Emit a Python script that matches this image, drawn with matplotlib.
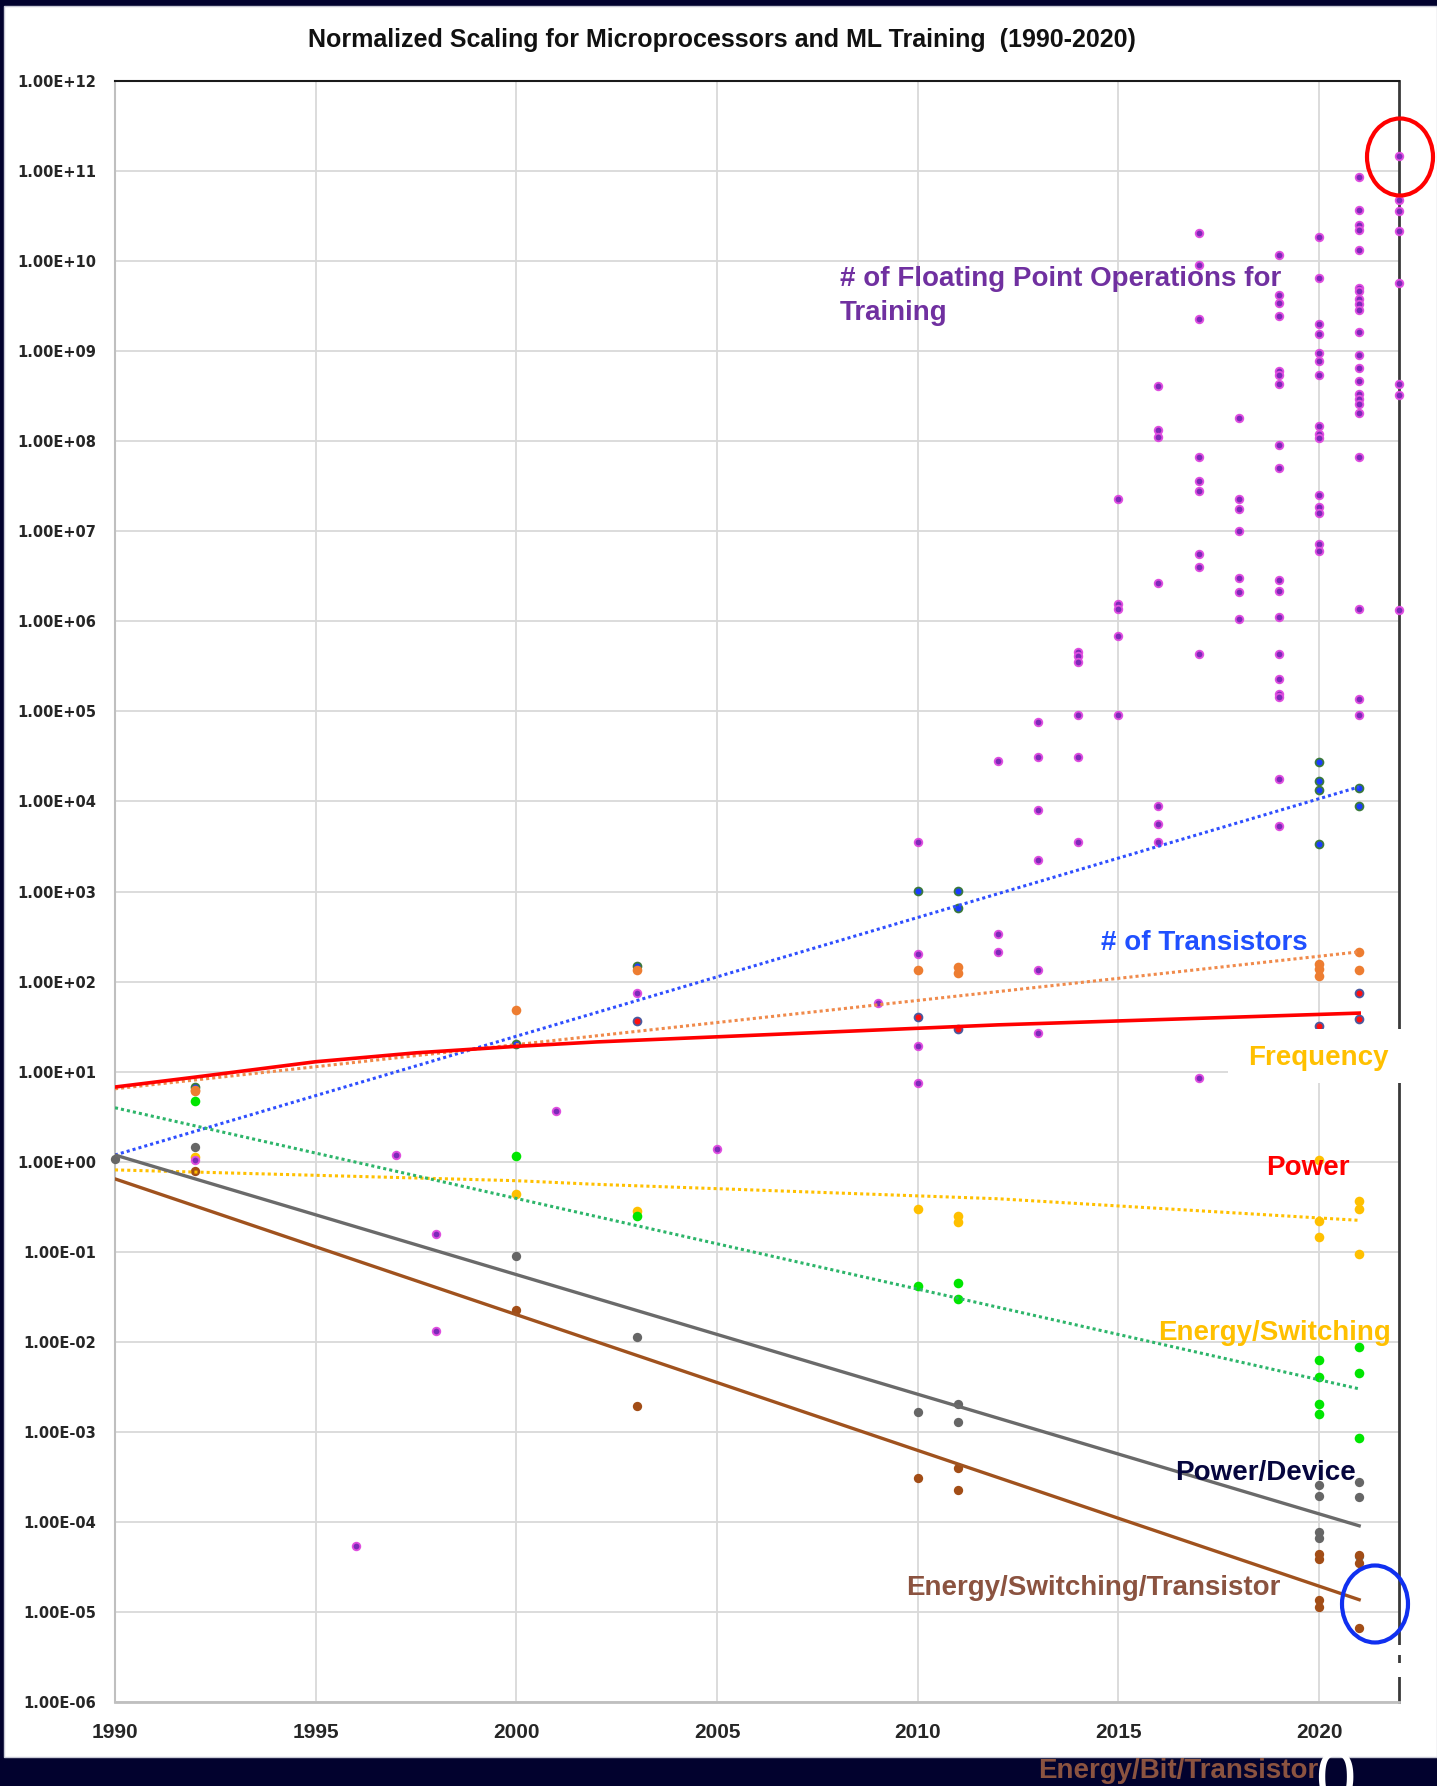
import matplotlib
matplotlib.use("Agg")
import matplotlib.pyplot as plt
from matplotlib.patches import Rectangle, Ellipse
from matplotlib.ticker import NullLocator

W, H = 1437, 1786
NAVY = "#02022e"

# ---------------- data (normalized, 1990 = 1) ----------------
# training compute, FLOPs per model, grouped by year
flops = {
    1992: [1.05],
    1996: [5.4e-5],
    1997: [1.2],
    1998: [0.158, 0.0132],
    2001: [3.63],
    2003: [74],
    2005: [1.38],
    2009: [57.5],
    2010: [3550, 200, 19.5, 7.41],
    2012: [2.82e4, 339, 214],
    2013: [7.59e4, 3.09e4, 7940, 2240, 135, 26.9],
    2014: [4.57e5, 4.07e5, 3.55e5, 9.12e4, 3.09e4, 3550],
    2015: [2.29e7, 1.55e6, 1.38e6, 6.92e5, 9.12e4],
    2016: [4.07e8, 1.32e8, 1.12e8, 2.63e6, 8910, 5620, 3550],
    2017: [2.04e10, 8.91e9, 2.24e9, 6.61e7, 3.63e7, 2.82e7, 5.5e6, 3.98e6, 4.37e5, 8.51],
    2018: [1.82e8, 2.29e7, 1.74e7, 1.0e7, 3.02e6, 2.09e6, 1.05e6],
    2019: [1.17e10, 4.17e9, 3.39e9, 2.45e9, 6.03e8, 5.37e8, 4.27e8, 9.12e7, 5.01e7,
           2.88e6, 2.19e6, 1.10e6, 4.37e5, 2.29e5, 1.55e5, 1.45e5, 1.78e4, 5370],
    2020: [1.86e10, 6.46e9, 2.0e9, 1.55e9, 9.55e8, 7.76e8, 5.37e8, 1.48e8, 1.2e8,
           1.07e8, 2.51e7, 1.86e7, 1.58e7, 7.24e6, 6.03e6],
    2021: [8.51e10, 3.63e10, 2.51e10, 2.19e10, 1.32e10, 5.01e9, 4.57e9, 3.72e9, 3.31e9,
           2.82e9, 1.62e9, 8.91e8, 6.46e8, 4.68e8, 3.31e8, 2.95e8, 2.57e8, 2.04e8,
           6.61e7, 1.38e6, 1.38e5, 9.12e4],
    2022: [1.45e11, 4.68e10, 3.55e10, 2.14e10, 5.62e9, 4.27e8, 3.24e8, 1.32e6],
}

trans_years = [1992, 2000, 2003, 2010, 2011, 2011, 2020, 2020, 2020, 2020, 2021, 2021]
trans_vals = [6.76, 20.4, 148, 1020, 1020, 661, 2.75e4, 1.70e4, 1.35e4, 3390, 1.41e4, 8910]

freq_years = [1992, 1992, 2000, 2003, 2010, 2011, 2011, 2020, 2020, 2020, 2021, 2021]
freq_vals = [6.31, 6.03, 49, 135, 135, 145, 123, 158, 138, 115, 214, 135]

power_years = [2003, 2010, 2011, 2020, 2021, 2021]
power_vals = [36.3, 40.7, 29.5, 32.4, 74.1, 38.9]

esw_years = [1992, 2000, 2003, 2010, 2011, 2011, 2020, 2020, 2020, 2021, 2021, 2021]
esw_vals = [1.12, 0.437, 0.282, 0.302, 0.251, 0.214, 1.05, 0.219, 0.145, 0.363, 0.302, 0.0955]

green_years = [1992, 2000, 2003, 2010, 2011, 2011, 2020, 2020, 2020, 2020, 2021, 2021, 2021]
green_vals = [4.68, 1.15, 0.251, 0.0417, 0.0457, 0.0302,
              6.31e-3, 4.07e-3, 2.04e-3, 1.58e-3, 8.71e-3, 4.57e-3, 8.71e-4]

pdev_years = [1990, 1992, 2000, 2003, 2010, 2011, 2011, 2020, 2020, 2020, 2020, 2021, 2021, 2021]
pdev_vals = [1.07, 1.45, 0.0912, 0.0115, 1.66e-3, 2.04e-3, 1.29e-3,
             2.57e-4, 1.95e-4, 7.76e-5, 6.61e-5, 2.82e-4, 1.91e-4, 4.17e-5]

est_years = [1992, 2000, 2003, 2010, 2011, 2011, 2020, 2020, 2020, 2020, 2021, 2021, 2021]
est_vals = [0.794, 0.0229, 1.95e-3, 3.09e-4, 3.98e-4, 2.29e-4,
            4.47e-5, 3.89e-5, 1.38e-5, 1.15e-5, 4.37e-5, 3.55e-5, 6.76e-6]

# exponential trend lines, value at first / last year
trend_years = [1990, 2021]
trend_trans = [1.19, 1.45e4]
trend_freq = [6.46, 214]
trend_green = [3.98, 3.02e-3]
trend_pdev = [1.19, 9.12e-5]
trend_est = [0.646, 1.38e-5]

# curved trend lines, sampled along their length
power_fit_years = [1990, 1992, 1995, 1997.5, 2000, 2002, 2012, 2021]
power_fit_vals = [6.76, 8.71, 12.9, 16.2, 19.1, 21.4, 33.1, 44.7]
esw_fit_years = [1990, 2000, 2002, 2012, 2021]
esw_fit_vals = [0.813, 0.617, 0.562, 0.389, 0.224]

year_ticks = [1990, 1995, 2000, 2005, 2010, 2015, 2020]
decades = list(range(-6, 13))


def fx(x):
    return x / W


def fy(y):
    return 1 - y / H


fig = plt.figure(figsize=(W / 100, H / 100), dpi=100, facecolor=NAVY)
fig.add_artist(Rectangle((fx(4), fy(1757)), 1 - fx(4), (1757 - 6) / H,
                         transform=fig.transFigure, facecolor="white",
                         edgecolor="#c9cad6", lw=1, zorder=-5))

ax = fig.add_axes([fx(115), fy(1702.4), (1399.3 - 115) / W, (1702.4 - 80.6) / H])
ax.set_facecolor("white")
ax.set_yscale("log")
ax.set_xlim(1990, 2022)
ax.set_ylim(1e-6, 1e12)

yt = [10.0 ** k for k in decades]
ax.set_yticks(yt)
ax.set_yticklabels([f"{v:.2E}" for v in yt], fontsize=10.5, fontweight="bold",
                   color="#262626", family="DejaVu Sans")
ax.yaxis.set_minor_locator(NullLocator())
ax.set_xticks(year_ticks)
ax.set_xticklabels([str(y) for y in year_ticks], fontsize=15, fontweight="bold",
                   color="#262626", family=["Liberation Sans Narrow", "Liberation Sans"])
ax.tick_params(axis="y", length=0, pad=13.5)
ax.tick_params(axis="x", length=0, pad=14.5)
ax.grid(True, color="#d9d9d9", lw=1.3)
ax.set_axisbelow(True)

ax.spines["left"].set_color("#bfbfbf")
ax.spines["left"].set_linewidth(1.5)
ax.spines["bottom"].set_color("#bfbfbf")
ax.spines["bottom"].set_linewidth(2)
ax.spines["top"].set_color("#1a1a1a")
ax.spines["top"].set_linewidth(1.5)
ax.spines["right"].set_color("#3a3a3a")
ax.spines["right"].set_linewidth(2)

# scatter points
ax.scatter(esw_years, esw_vals, s=48, color="#ffc000", linewidths=0, zorder=3, clip_on=False)
fl_x = [yr for yr, vals in flops.items() for _ in vals]
fl_y = [v for vals in flops.values() for v in vals]
ax.scatter(fl_x, fl_y, s=30, color="#7d2ab8", edgecolors="#e04ee0", linewidths=1.3,
           zorder=3, clip_on=False)
ax.scatter(trans_years, trans_vals, s=32, color="#1a3cff", edgecolors="#3c7a3c",
           linewidths=1.3, zorder=3, clip_on=False)
ax.scatter(freq_years, freq_vals, s=48, color="#ed7d31", linewidths=0, zorder=3, clip_on=False)
ax.scatter(power_years, power_vals, s=32, color="#ff1010", edgecolors="#4a5aa0",
           linewidths=1.3, zorder=3, clip_on=False)
ax.scatter(green_years, green_vals, s=48, color="#00e600", linewidths=0, zorder=3, clip_on=False)
ax.scatter(pdev_years, pdev_vals, s=45, color="#666666", linewidths=0, zorder=3, clip_on=False)
ax.scatter(est_years, est_vals, s=45, color="#a24d16", linewidths=0, zorder=3, clip_on=False)

# trend lines
dots = (0, (1, 1))
ax.plot(trend_years, trend_trans, color="#2f4fff", lw=2.2, ls=dots, zorder=4)
ax.plot(trend_years, trend_freq, color="#f08a4b", lw=2.2, ls=dots, zorder=4)
ax.plot(power_fit_years, power_fit_vals, color="#ff0000", lw=2.6, zorder=4)
ax.plot(esw_fit_years, esw_fit_vals, color="#ffc000", lw=2.2, ls=dots, zorder=4)
ax.plot(trend_years, trend_green, color="#2db56a", lw=2.2, ls=dots, zorder=4)
ax.plot(trend_years, trend_pdev, color="#6a6a6a", lw=2.4, zorder=4)
ax.plot(trend_years, trend_est, color="#a0521e", lw=2.4, zorder=4)

# title
fig.text(fx(722), fy(47), "Normalized Scaling for Microprocessors and ML Training  (1990-2020)",
         ha="center", va="baseline", fontsize=18, fontweight="bold", color="#111111",
         family=["Liberation Sans Narrow", "Liberation Sans"])

# white patches over the right frame line
for y0, y1 in [(1029, 1083), (1645, 1655), (1663, 1677)]:
    x0 = 1228 if y1 == 1083 else 1394
    fig.add_artist(Rectangle((fx(x0), fy(y1)), (1412 - x0) / W, (y1 - y0) / H,
                             transform=fig.transFigure, facecolor="white",
                             edgecolor="none", zorder=5))

lab = dict(ha="left", va="baseline", fontsize=20, fontweight="bold",
           family="Liberation Sans", zorder=7)
fig.text(fx(840), fy(286), "# of Floating Point Operations for", color="#7030a0", **lab)
fig.text(fx(840), fy(320), "Training", color="#7030a0", **lab)
fig.text(fx(1101), fy(950), "# of Transistors", color="#2050ff", **lab)
fig.text(fx(1248), fy(1065), "Frequency", color="#ffc000", **lab)
fig.text(fx(1266), fy(1175), "Power", color="#ff0000", **lab)
fig.text(fx(1158), fy(1340), "Energy/Switching", color="#ffc000", **lab)
fig.text(fx(1175), fy(1480), "Power/Device", color="#06063e", **lab)
fig.text(fx(906), fy(1595), "Energy/Switching/Transistor", color="#8b5340", **lab)
fig.text(fx(1038), fy(1778), "Energy/Bit/Transistor", color="#8b5340", **lab)

# fragment of slide text below the chart
fig.text(fx(1335), fy(1802), "0", ha="center", va="baseline", fontsize=52,
         color="white", family="Liberation Sans", zorder=6)

# highlight rings
fig.add_artist(Ellipse((fx(1400), fy(157)), 66 / W, 77 / H, transform=fig.transFigure,
                       fill=False, edgecolor="#ff0000", lw=3, zorder=8))
fig.add_artist(Ellipse((fx(1375), fy(1604)), 66 / W, 77 / H, transform=fig.transFigure,
                       fill=False, edgecolor="#1030f0", lw=3, zorder=8))

fig.savefig("out.png", dpi=100, facecolor=NAVY)
